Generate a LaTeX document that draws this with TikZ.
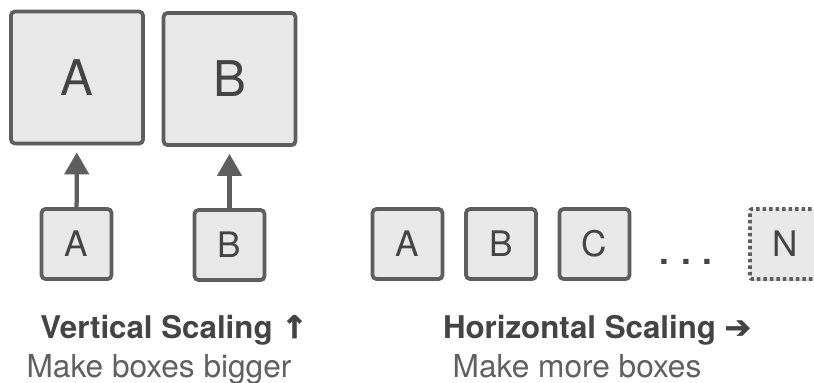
\documentclass[tikz,border=0pt]{standalone}
\usepackage{fontspec}
\setmainfont{TeX Gyre Heros}
\newfontfamily\symfont[FakeBold=2]{DejaVu Sans Bold}
\usetikzlibrary{arrows.meta,shadows,positioning}

\definecolor{boxfill}{HTML}{E8E8E8}
\definecolor{boxline}{HTML}{5E5E5E}
\definecolor{textgray}{HTML}{444444}

\tikzset{
	box/.style={draw=boxline,fill=boxfill,line width=0.075cm,rounded corners=0.08cm,
		text=textgray,inner sep=0pt,
		drop shadow={shadow xshift=0.03cm,shadow yshift=-0.04cm,opacity=0.3}},
	bigbox/.style={box,minimum size=2.64cm,font=\fontsize{28}{32}\selectfont},
	smallbox/.style={box,minimum size=1.4cm,font=\fontsize{20}{24}\selectfont},
	growarrow/.style={draw=boxline,line width=0.085cm,-{Triangle[width=0.48cm,length=0.44cm]},shorten >=0.14cm},
	caption/.style={anchor=base,text=textgray,font=\fontsize{18}{22}\selectfont}
}

\begin{document}
\begin{tikzpicture}[node distance = 1.87cm]
	\useasboundingbox (0,0) rectangle (16.28,7.64);
	
	% bigger boxes
	\node[bigbox] (big1) at (1.54,6.09) {A};
	\node[bigbox] (big2) at (4.59,6.06) {B};
	
	% small boxes that grow
	\node[smallbox] (small1) at (1.53,2.76) {A};
	\node[smallbox] (small2) at (4.59,2.74) {B};
	
	\draw[growarrow] (small1) -- (big1);
	\draw[growarrow] (small2) -- (big2);
	
	% more boxes
	\node[smallbox] (row1) at (8.15,2.76) {A};
	\node[smallbox] (row2) [right of=row1] {B};
	\node[smallbox] (row3) [right of=row2] {C};
	\node[caption,font=\fontsize{20}{24}\selectfont\bfseries] (dots) at (13.72,2.36) {.\,\,.\,\,.};
	\node[smallbox,drop shadow={opacity=0},rounded corners=0.04cm,
		dash pattern=on 0.07cm off 0.06cm] (rowN) at (15.7,2.76) {N};
	
	% captions
	\node[caption,font=\fontsize{17.8}{22}\selectfont\bfseries] (vtitle) at (3.48,0.88) {Vertical Scaling {\symfont ↑}};
	\node[caption,text=textgray!85] (vtext) at (3.18,0.10) {Make boxes bigger};
	\node[caption,font=\fontsize{17.8}{22}\selectfont\bfseries] (htitle) at (11.94,0.88) {Horizontal Scaling {\symfont ➔}};
	\node[caption,text=textgray!85] (htext) at (11.54,0.10) {Make more boxes};
	
\end{tikzpicture}
\end{document}
